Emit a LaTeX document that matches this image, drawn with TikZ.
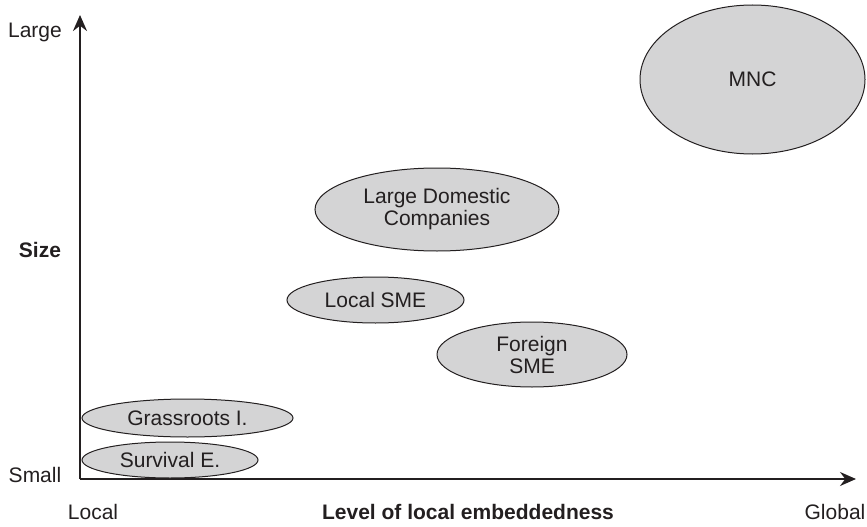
\documentclass[tikz,border=0pt]{standalone}
\usepackage{fontspec}
\setmainfont{Liberation Sans}
\usetikzlibrary{shapes.geometric,arrows.meta}
\definecolor{firmgray}{HTML}{D4D4D5}
\definecolor{inkgray}{HTML}{231F20}
\tikzset{
  firm/.style={ellipse,draw=inkgray,line width=0.5pt,fill=firmgray,inner sep=0pt,align=center,text=inkgray},
  axislabel/.style={text=inkgray,inner sep=0pt}
}

\begin{document}
\begin{tikzpicture}[x=0.5pt,y=0.5pt,font=\fontsize{10.5}{11}\selectfont]
        \useasboundingbox (0,0) rectangle (867,526);
        % The axes
        \coordinate (origin) at (80,47);
        \coordinate (ytip) at (80,511);
        \coordinate (xtip) at (856,47);
        \draw[inkgray,line width=1pt,-{Stealth[length=8pt,width=7pt]}] (origin) -- (ytip);
        \draw[inkgray,line width=1pt,-{Stealth[length=8pt,width=7pt]}] (origin) -- (xtip);

        % Axis labels
        \node[axislabel] (large) at (35,494) {Large};
        \node[axislabel,font=\fontsize{10.5}{11}\selectfont\bfseries] (size) at (40,276) {Size};
        \node[axislabel] (small) at (35,51) {Small};
        \node[axislabel] (local) at (93,14) {Local};
        \node[axislabel,font=\fontsize{10.5}{11}\selectfont\bfseries] (level) at (468,14) {Level of local embeddedness};
        \node[axislabel] (global) at (835,14) {Global};

        % The firms
        \node[firm,minimum width=112.5pt,minimum height=74.5pt] (mnc) at (752.5,446.5) {MNC};
        \node[firm,minimum width=122pt,minimum height=41.5pt] (ldc) at (437,316.5) {Large Domestic\\Companies};
        \node[firm,minimum width=88.5pt,minimum height=23pt] (lsme) at (375.5,226) {Local SME};
        \node[firm,minimum width=95pt,minimum height=32.5pt] (fsme) at (532,171.5) {Foreign\\SME};
        \node[firm,minimum width=105.5pt,minimum height=19pt] (grass) at (187.5,108) {Grassroots I.};
        \node[firm,minimum width=88pt,minimum height=18pt] (surv) at (170,66) {Survival E.};
\end{tikzpicture}
\end{document}
